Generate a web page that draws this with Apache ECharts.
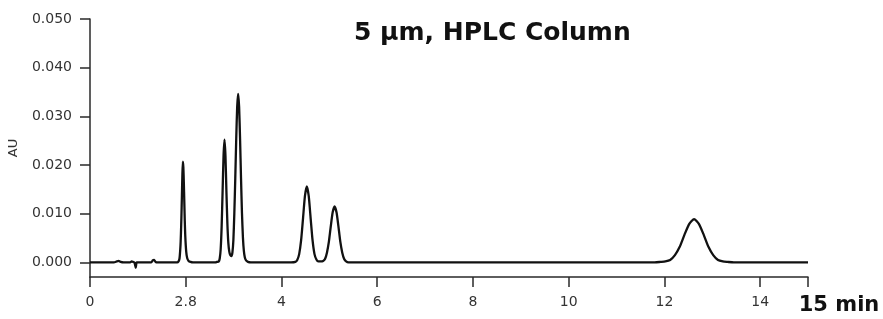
<!DOCTYPE html>
<html><head><meta charset="utf-8">
<script src="https://cdn.jsdelivr.net/npm/echarts@6/dist/echarts.min.js"></script>
<style>html,body{margin:0;padding:0;background:#fff}#c{width:883px;height:319px}</style>
</head><body><div id="c"></div>
<script>
// Retention time (min) and absorbance (AU)
const timeMin = [
  0.00, 0.50, 0.56, 0.60, 0.64, 0.70, 0.84, 0.87, 0.90, 0.93, 0.955, 0.975, 1.02, 1.28, 1.31, 1.34, 1.37, 1.42,
  1.82, 1.85, 1.87, 1.89, 1.90, 1.91, 1.92, 1.93, 1.94, 1.95, 1.96, 1.97, 1.98, 1.99, 2.01, 2.03, 2.06, 2.10, 2.15,
  2.62, 2.65, 2.69, 2.71, 2.73, 2.75, 2.77, 2.79, 2.81, 2.83, 2.85, 2.87, 2.89, 2.91, 2.93, 2.955, 2.975, 2.995,
  3.015, 3.035, 3.055, 3.075, 3.095, 3.115, 3.135, 3.155, 3.175, 3.195, 3.215, 3.235, 3.26, 3.30, 3.36,
  4.20, 4.29, 4.33, 4.37, 4.41, 4.45, 4.49, 4.53, 4.57, 4.61, 4.65, 4.69, 4.73, 4.77, 4.82, 4.87, 4.91, 4.95,
  4.99, 5.03, 5.07, 5.11, 5.15, 5.19, 5.23, 5.27, 5.31, 5.35, 5.40,
  11.80, 11.92, 12.02, 12.12, 12.22, 12.32, 12.42, 12.52, 12.62, 12.72, 12.82, 12.92, 13.02, 13.12, 13.22, 13.32, 13.45, 15.00
];
const absorbanceAU = [
  0.0000, 0.0000, 0.0002, 0.0003, 0.0001, 0.0000, 0.0000, 0.0002, 0.0001, 0.0000, -0.0011, 0.0000, 0.0000, 0.0000, 0.0004, 0.0005, 0.0001, 0.0000,
  0.0000, 0.0002, 0.0008, 0.0034, 0.0060, 0.0094, 0.0137, 0.0180, 0.0207, 0.0196, 0.0165, 0.0125, 0.0085, 0.0055, 0.0022, 0.0009, 0.0003, 0.0001, 0.0000,
  0.0000, 0.0001, 0.0002, 0.0008, 0.0027, 0.0073, 0.0145, 0.0219, 0.0252, 0.0219, 0.0145, 0.0080, 0.0040, 0.0022, 0.0015, 0.0013, 0.0020, 0.0045,
  0.0100, 0.0173, 0.0254, 0.0320, 0.0346, 0.0320, 0.0254, 0.0173, 0.0101, 0.0051, 0.0023, 0.0010, 0.0004, 0.0001, 0.0000,
  0.0000, 0.0001, 0.0005, 0.0017, 0.0045, 0.0090, 0.0136, 0.0156, 0.0136, 0.0090, 0.0045, 0.0017, 0.0006, 0.0002, 0.0002, 0.0003, 0.0007, 0.0020,
  0.0042, 0.0074, 0.0103, 0.0115, 0.0103, 0.0074, 0.0042, 0.0020, 0.0007, 0.0002, 0.0000,
  0.0000, 0.0001, 0.0002, 0.0005, 0.0015, 0.0032, 0.0057, 0.0079, 0.0089, 0.0079, 0.0057, 0.0032, 0.0015, 0.0005, 0.0002, 0.0001, 0.0000, 0.0000
];
const xTickValues = [0, 2, 4, 6, 8, 10, 12, 14, 15];
const xTickLabels = ['0', '2.8', '4', '6', '8', '10', '12', '14', '15 min'];
const yTickValues = [0, 0.01, 0.02, 0.03, 0.04, 0.05];
const yTickLabels = ['0.000', '0.010', '0.020', '0.030', '0.040', '0.050'];
const titleText = '5 μm, HPLC Column';
const yAxisName = 'AU';

const seriesData = timeMin.map((t, i) => [t, absorbanceAU[i]]);
const axisColor = '#2a2a2a';
const labelColor = '#333';
const font = 'DejaVu Sans';

const chart = echarts.init(document.getElementById('c'), null, {renderer: 'canvas'});
chart.setOption({
  animation: false,
  backgroundColor: '#fff',
  title: {
    text: titleText,
    left: 354, top: 21,
    textAlign: 'left',
    padding: 0,
    textStyle: {fontFamily: font, fontWeight: 'bold', fontSize: 25, color: '#111'}
  },
  grid: {left: 90, right: 75, top: 19, bottom: 42, containLabel: false, outerBoundsMode: 'none'},
  xAxis: {
    type: 'value', min: 0, max: 15,
    axisLine: {show: true, onZero: false, lineStyle: {color: axisColor, width: 1.5}},
    axisTick: {show: true, length: 10, inside: false, customValues: xTickValues, lineStyle: {color: axisColor, width: 1.5}},
    axisLabel: {
      customValues: xTickValues,
      margin: 18,
      fontFamily: font, fontSize: 14, color: labelColor,
      formatter: v => {
        const i = xTickValues.indexOf(v);
        const s = i >= 0 ? xTickLabels[i] : '';
        return i === xTickValues.length - 1 ? '{big|' + s + '}' : s;
      },
      rich: {
        big: {fontFamily: font, fontWeight: 'bold', fontSize: 21, color: '#111', padding: [0, 0, 0, 62]}
      }
    },
    splitLine: {show: false}
  },
  yAxis: {
    type: 'value', min: -0.003, max: 0.05,
    name: yAxisName, nameLocation: 'middle', nameRotate: 90, nameGap: 70,
    nameTextStyle: {fontFamily: font, fontSize: 13, color: labelColor},
    axisLine: {show: true, onZero: false, lineStyle: {color: axisColor, width: 1.5}},
    axisTick: {show: true, length: 10, inside: false, customValues: yTickValues, lineStyle: {color: axisColor, width: 1.5}},
    axisLabel: {
      customValues: yTickValues,
      margin: 18,
      fontFamily: font, fontSize: 14, color: labelColor,
      formatter: v => {
        let best = 0;
        yTickValues.forEach((t, i) => { if (Math.abs(t - v) < Math.abs(yTickValues[best] - v)) best = i; });
        return yTickLabels[best];
      }
    },
    splitLine: {show: false}
  },
  series: [{
    type: 'line',
    data: seriesData,
    showSymbol: false,
    symbol: 'none',
    clip: false,
    smooth: 0.2,
    lineStyle: {color: '#111', width: 2.3}
  }]
});
</script>
</body></html>
